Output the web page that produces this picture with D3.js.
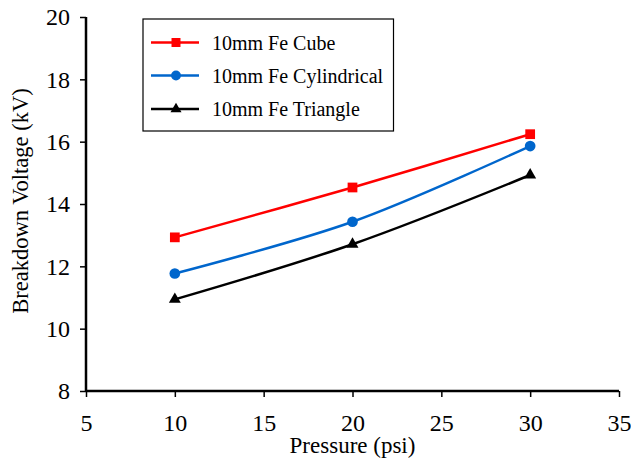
<!DOCTYPE html>
<html>
<head>
<meta charset="utf-8">
<script src="https://cdn.jsdelivr.net/npm/d3@7/dist/d3.min.js"></script>
<style>
  html, body { margin: 0; padding: 0; background: #fff; }
  svg { display: block; }
</style>
</head>
<body>
<svg id="chart" width="631" height="460"></svg>
<script>
// Pressure values (psi)
const pressure = [10, 20, 30];

// Breakdown voltage (kV) for each electrode shape
const cubeVoltage = [12.93, 14.53, 16.24];
const cylindricalVoltage = [11.77, 13.43, 15.86];
const triangleVoltage = [10.94, 12.71, 14.93];

const seriesNames = ["10mm Fe Cube", "10mm Fe Cylindrical", "10mm Fe Triangle"];
const seriesColors = ["#ff0000", "#0066cc", "#000000"];
const seriesMarkers = [d3.symbolSquare, d3.symbolCircle, d3.symbolTriangle];

const xTicks = [5, 10, 15, 20, 25, 30, 35];
const yTicks = [8, 10, 12, 14, 16, 18, 20];

const FONT = "Liberation Serif";

const series = [cubeVoltage, cylindricalVoltage, triangleVoltage].map((vals, i) => ({
  name: seriesNames[i],
  color: seriesColors[i],
  marker: seriesMarkers[i],
  points: pressure.map((p, j) => ({ x: p, y: vals[j] }))
}));

const svg = d3.select("#chart");
const margin = { left: 86, right: 12, top: 17, bottom: 69 };
const width = 631, height = 460;

const x = d3.scaleLinear().domain([5, 35]).range([margin.left, width - margin.right]);
const y = d3.scaleLinear().domain([8, 20]).range([height - margin.bottom, margin.top]);

// Axes
const xAxis = svg.append("g")
  .attr("transform", `translate(0,${y(8)})`)
  .call(d3.axisBottom(x).tickValues(xTicks).tickSize(6).tickPadding(17).tickFormat(d3.format("d")));
const yAxis = svg.append("g")
  .attr("transform", `translate(${x(5)},0)`)
  .call(d3.axisLeft(y).tickValues(yTicks).tickSize(6).tickPadding(10).tickFormat(d3.format("d")));

[xAxis, yAxis].forEach(g => {
  g.select(".domain").attr("stroke", "#000").attr("stroke-width", 2.5);
  g.selectAll(".tick line").attr("stroke", "#000").attr("stroke-width", 1.5);
  g.selectAll(".tick text")
    .style("font-family", FONT)
    .style("font-size", "24px").attr("fill", "#000");
});
// plain axis lines without the outer end ticks
xAxis.select(".domain").attr("d", `M${x(5)},0H${x(35)}`);
yAxis.select(".domain").attr("d", `M0,${y(8)}V${y(20)}`);

// Axis titles
svg.append("text")
  .attr("x", (x(5) + x(35)) / 2).attr("y", 453)
  .attr("text-anchor", "middle")
  .style("font-family", FONT).style("font-size", "23px")
  .text("Pressure (psi)");
svg.append("text")
  .attr("transform", `translate(28,${(y(8) + y(20)) / 2 - 3}) rotate(-90)`)
  .attr("text-anchor", "middle")
  .style("font-family", FONT).style("font-size", "22.5px")
  .text("Breakdown Voltage (kV)");

// Series lines (smoothed) and markers
const line = d3.line().x(d => x(d.x)).y(d => y(d.y)).curve(d3.curveCatmullRom.alpha(0.5));

const markerSize = [95, 90, 62];

series.forEach((s, i) => {
  svg.append("path")
    .datum(s.points)
    .attr("fill", "none")
    .attr("stroke", s.color)
    .attr("stroke-width", 2.5)
    .attr("d", line);
  svg.selectAll(null)
    .data(s.points)
    .enter().append("path")
    .attr("transform", d => `translate(${x(d.x)},${y(d.y)})`)
    .attr("d", d3.symbol().type(s.marker).size(markerSize[i]))
    .attr("fill", s.color);
});

// Legend
const legend = svg.append("g");
legend.append("rect")
  .attr("x", 143).attr("y", 19).attr("width", 250.5).attr("height", 112)
  .attr("fill", "#fff").attr("stroke", "#000").attr("stroke-width", 1.2);

const rowY = [42.5, 75.5, 109];
series.forEach((s, i) => {
  const g = legend.append("g").attr("transform", `translate(0,${rowY[i]})`);
  g.append("line").attr("x1", 151).attr("x2", 199).attr("y1", 0).attr("y2", 0)
    .attr("stroke", s.color).attr("stroke-width", 2.5);
  g.append("path").attr("transform", "translate(176,0)")
    .attr("d", d3.symbol().type(s.marker).size(markerSize[i] * 0.85))
    .attr("fill", s.color);
  g.append("text").attr("x", 212).attr("y", 0).attr("dy", "0.35em")
    .style("font-family", FONT).style("font-size", "20px")
    .text(s.name);
});
</script>
</body>
</html>
